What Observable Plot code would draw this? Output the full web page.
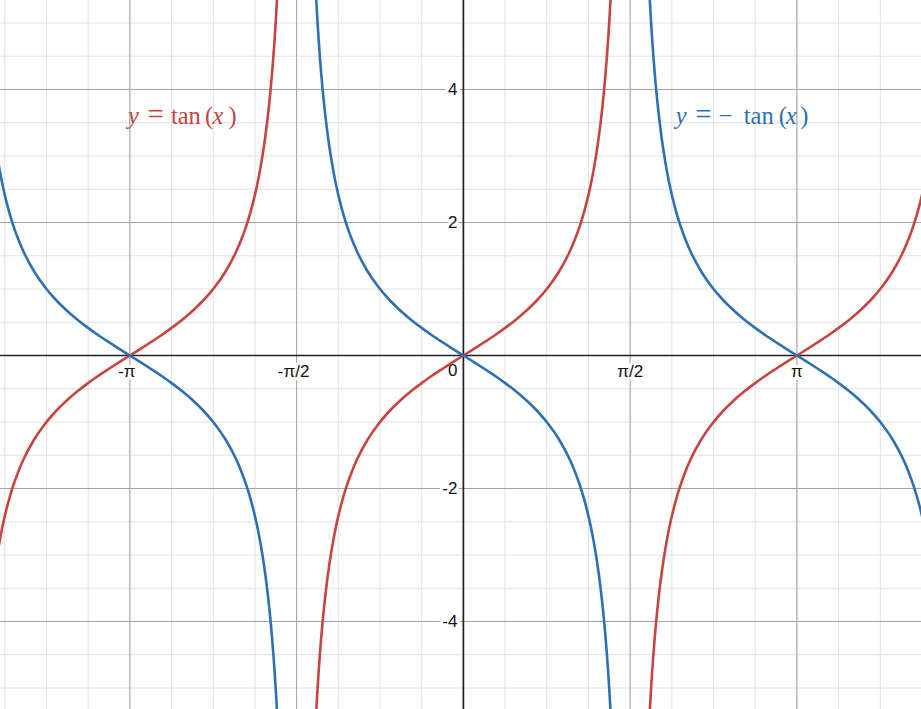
<!DOCTYPE html>
<html>
<head>
<meta charset="utf-8">
<script src="https://cdn.jsdelivr.net/npm/d3@7"></script>
<script src="https://cdn.jsdelivr.net/npm/@observablehq/plot@0.6"></script>
<style>
  html, body { margin: 0; padding: 0; background: #fff; }
  #chart svg { display: block; }
</style>
</head>
<body>
<div id="chart"></div>
<script>
// ---- data ----
// one branch of y = tan(x): offsets u (radians) from the branch centre, and values
const branchU   = [-1.45, -1.4, -1.375, -1.35, -1.325, -1.3, -1.275, -1.25, -1.225, -1.2, -1.15, -1.1, -1.05, -1.0, -0.9, -0.8, -0.7, -0.6, -0.5, -0.4, -0.3, -0.2, -0.1,
                   0, 0.1, 0.2, 0.3, 0.4, 0.5, 0.6, 0.7, 0.8, 0.9, 1.0, 1.05, 1.1, 1.15, 1.2, 1.225, 1.25, 1.275, 1.3, 1.325, 1.35, 1.375, 1.4, 1.45];
const branchTan = [-8.238, -5.798, -5.043, -4.455, -3.985, -3.602, -3.282, -3.010, -2.776, -2.572, -2.235, -1.965, -1.743, -1.557, -1.260, -1.030, -0.842, -0.684, -0.546, -0.423, -0.309, -0.203, -0.100,
                   0, 0.100, 0.203, 0.309, 0.423, 0.546, 0.684, 0.842, 1.030, 1.260, 1.557, 1.743, 1.965, 2.235, 2.572, 2.776, 3.010, 3.282, 3.602, 3.985, 4.455, 5.043, 5.798, 8.238];
// the branches repeat every π; centres of the visible branches
const branchCenters = [-Math.PI, 0, Math.PI];

// ticks and grid
const xTickValues = [-Math.PI, -Math.PI / 2, Math.PI / 2, Math.PI];
const xTickLabels = ["-π", "-π/2", "π/2", "π"];
const yTickValues = [-4, -2, 2, 4];
const yTickLabels = ["-4", "-2", "2", "4"];
const originLabel = ["0"];
const xMinorSteps = d3.range(-11, 11);          // multiples of π/8
const xMajorSteps = [-2, -1, 1, 2];              // multiples of π/2
const yMinorValues = d3.range(-10, 11).map(k => k / 2);
const yMajorValues = [-4, -2, 2, 4];

// curve labels
const curveNames = ["tan", "-tan"];
const labelPieces = [
  [{t: "y", i: 1, o: 0}, {t: "=", o: 19.5, s: 29}, {t: "tan", o: 43}, {t: "(", o: 77}, {t: "x", i: 1, o: 84.5}, {t: ")", o: 100.5}],
  [{t: "y", i: 1, o: 0}, {t: "=", o: 19.5, s: 29}, {t: "\u2212", o: 43}, {t: "tan", o: 68}, {t: "(", o: 103}, {t: "x", i: 1, o: 110}, {t: ")", o: 124.5}]
];
const labelX = [-3.16, 2.0];
const labelY = [3.594, 3.594];

// ---- build tables ----
const tanRows = [], negRows = [];
branchCenters.forEach((c, b) => {
  branchU.forEach((u, j) => {
    tanRows.push({x: c + u, y: branchTan[j], branch: b});
    negRows.push({x: c + u, y: -branchTan[j], branch: b});
  });
});
const xMinor = xMinorSteps.map(k => k * Math.PI / 8);
const xMajor = xMajorSteps.map(k => k * Math.PI / 2);
const xTicks = xTickValues.map((v, i) => ({v, label: xTickLabels[i]}));

const RED = "#c74440", BLUE = "#2d70b3";
const sans = "'Liberation Sans', Arial, sans-serif";
const serif = "'Liberation Serif', 'Times New Roman', serif";

function mathLabel(pieces) {
  return (index, scales, values, dims, ctx, next) => {
    const g = next(index, scales, values, dims, ctx);
    d3.select(g).selectAll("text").each(function () {
      const t = d3.select(this);
      t.text(null);
      pieces.forEach(p => {
        t.append("tspan").attr("x", p.o)
          .attr("font-style", p.i ? "italic" : "normal")
          .attr("font-size", p.s ? p.s : null)
          .text(p.t);
      });
    });
    return g;
  };
}

const tickStyle = {fontSize: 17, fontFamily: sans, fill: "#111", stroke: "white", strokeWidth: 6};

const plot = Plot.plot({
  width: 921,
  height: 709,
  margin: 0,
  x: {domain: [-4.36, 4.315], axis: null},
  y: {domain: [-5.323, 5.338], axis: null},
  style: {background: "white", overflow: "hidden"},
  marks: [
    Plot.ruleX(xMinor, {stroke: "#e2e2e2", strokeWidth: 1}),
    Plot.ruleY(yMinorValues, {stroke: "#e2e2e2", strokeWidth: 1}),
    Plot.ruleX(xMajor, {stroke: "#a3a3a3", strokeWidth: 1}),
    Plot.ruleY(yMajorValues, {stroke: "#a3a3a3", strokeWidth: 1}),
    Plot.ruleX([0], {stroke: "#222", strokeWidth: 1.7}),
    Plot.ruleY([0], {stroke: "#222", strokeWidth: 1.7}),
    Plot.text(xTicks.filter(d => d.v < 0), {x: "v", y: 0, text: "label", dy: 16, dx: -3, textAnchor: "middle", ...tickStyle}),
    Plot.text(xTicks.filter(d => d.v > 0), {x: "v", y: 0, text: "label", dy: 16, textAnchor: "middle", ...tickStyle}),
    Plot.text(yTickValues, {x: 0, y: d => d, text: (d, i) => yTickLabels[i], dx: -6, textAnchor: "end", ...tickStyle}),
    Plot.text(originLabel, {x: 0, y: 0, text: d => d, dx: -6, dy: 15, fontSize: 17, fontFamily: sans,
      fill: "#111", textAnchor: "end"}),
    Plot.line(tanRows, {x: "x", y: "y", z: "branch", stroke: RED, strokeWidth: 2.6, curve: "monotone-x", clip: true}),
    Plot.line(negRows, {x: "x", y: "y", z: "branch", stroke: BLUE, strokeWidth: 2.6, curve: "monotone-x", clip: true}),
    Plot.text([curveNames[0]], {x: labelX[0], y: labelY[0], text: d => d, fill: RED, fontSize: 24.5, fontFamily: serif,
      textAnchor: "start", render: mathLabel(labelPieces[0])}),
    Plot.text([curveNames[1]], {x: labelX[1], y: labelY[1], text: d => d, fill: BLUE, fontSize: 24.5, fontFamily: serif,
      textAnchor: "start", render: mathLabel(labelPieces[1])})
  ]
});
document.getElementById("chart").appendChild(plot);
</script>
</body>
</html>
